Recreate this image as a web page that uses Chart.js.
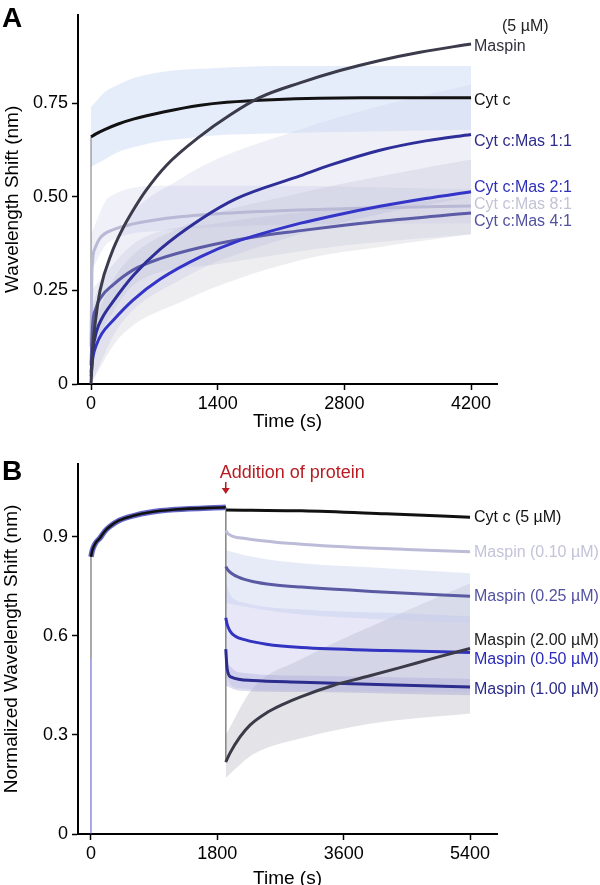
<!DOCTYPE html>
<html>
<head>
<meta charset="utf-8">
<script src="https://cdn.jsdelivr.net/npm/chart.js@4.4.0/dist/chart.umd.min.js"></script>
<style>
  html, body { margin: 0; padding: 0; background: #fff; overflow: hidden; }
  canvas { position: absolute; left: 0; }
</style>
</head>
<body>
<canvas id="chartA" width="600" height="440" style="top:0"></canvas>
<canvas id="chartB" width="600" height="450" style="top:440px"></canvas>
<script>
// ---------- Panel A data ----------
const aTicksX = [0, 1400, 2800, 4200];
const aTicksY = [0, 0.25, 0.5, 0.75];
const aTickLabelsY = ['0', '0.25', '0.50', '0.75'];

const aCytcT = [0, 50, 150, 300, 467, 800, 1208, 1500, 2000, 3000, 4200];
const aCytcY = [0.66, 0.668, 0.68, 0.695, 0.708, 0.727, 0.745, 0.753, 0.76, 0.765, 0.765];

const aMaspinT = [0, 20, 50, 100, 228, 350, 467, 600, 835, 1204, 1536, 1867, 2309, 2751, 3193, 3635, 4200];
const aMaspinY = [0, 0.1, 0.17, 0.25, 0.35, 0.415, 0.465, 0.515, 0.585, 0.662, 0.719, 0.766, 0.805, 0.838, 0.865, 0.887, 0.909];

const aMas11T = [0, 20, 60, 120, 243, 467, 762, 1208, 1600, 2317, 2641, 3193, 3700, 4200];
const aMas11Y = [0.03, 0.09, 0.14, 0.175, 0.22, 0.29, 0.36, 0.44, 0.495, 0.557, 0.585, 0.625, 0.65, 0.667];

const aMas21T = [0, 20, 60, 120, 243, 467, 762, 1208, 1600, 2317, 2641, 3193, 3700, 4200];
const aMas21Y = [0.02, 0.07, 0.105, 0.135, 0.17, 0.225, 0.28, 0.34, 0.38, 0.43, 0.448, 0.475, 0.496, 0.514];

const aMas81T = [0, 10, 40, 100, 250, 467, 800, 1400, 2300, 3200, 4200];
const aMas81Y = [0.1, 0.3, 0.36, 0.39, 0.413, 0.428, 0.442, 0.455, 0.465, 0.471, 0.476];

const aMas41T = [0, 15, 50, 120, 243, 467, 762, 1208, 1800, 2317, 2641, 3193, 4200];
const aMas41Y = [0.05, 0.15, 0.2, 0.235, 0.265, 0.305, 0.335, 0.365, 0.393, 0.41, 0.42, 0.435, 0.457];

// spread bands (lower / upper)
const aBandCytcT = [0, 150, 300, 500, 800, 1000, 1400, 2000, 4200];
const aBandCytcLo = [0.58, 0.6, 0.62, 0.635, 0.65, 0.655, 0.665, 0.67, 0.68];
const aBandCytcHi = [0.74, 0.78, 0.8, 0.82, 0.835, 0.84, 0.845, 0.85, 0.85];

const aBand11T = [0, 300, 1000, 2300, 3300, 4200];
const aBand11Lo = [0, 0.15, 0.28, 0.4, 0.46, 0.5];
const aBand11Hi = [0.2, 0.4, 0.55, 0.68, 0.75, 0.8];

const aBand21T = [0, 300, 1000, 2300, 3300, 4200];
const aBand21Lo = [0, 0.12, 0.22, 0.33, 0.37, 0.4];
const aBand21Hi = [0.15, 0.3, 0.42, 0.51, 0.56, 0.6];

const aBand81T = [0, 200, 800, 2000, 4200];
const aBand81Lo = [0.3, 0.38, 0.41, 0.425, 0.43];
const aBand81Hi = [0.4, 0.5, 0.53, 0.53, 0.52];

const aBand41T = [0, 500, 1400, 2800, 4200];
const aBand41Lo = [0.1, 0.27, 0.32, 0.37, 0.4];
const aBand41Hi = [0.25, 0.38, 0.43, 0.47, 0.5];

const aJumpT = [0, 0];
const aJumpY = [0, 0.66];

const aLabels = ['(5 µM)', 'Maspin', 'Cyt c', 'Cyt c:Mas 1:1', 'Cyt c:Mas 2:1', 'Cyt c:Mas 8:1', 'Cyt c:Mas 4:1'];

// ---------- Panel B data ----------
const bTicksX = [0, 1800, 3600, 5400];
const bTicksY = [0, 0.3, 0.6, 0.9];
const bTickLabelsY = ['0', '0.3', '0.6', '0.9'];
const bAdditionT = 1920;

const bPreT = [0, 20, 60, 128, 200, 270, 400, 600, 840, 1200, 1920];
const bPreY = [0.84, 0.86, 0.88, 0.897, 0.918, 0.932, 0.95, 0.964, 0.975, 0.983, 0.99];

const bCytcT = [1925, 3000, 4200, 5400];
const bCytcY = [0.982, 0.979, 0.97, 0.96];

const bM010T = [1920, 1950, 2200, 2600, 3600, 4500, 5400];
const bM010Y = [0.92, 0.91, 0.895, 0.885, 0.87, 0.862, 0.855];

const bM025T = [1920, 1950, 2000, 2100, 2300, 2600, 3000, 4000, 5400];
const bM025Y = [0.81, 0.8, 0.79, 0.778, 0.765, 0.755, 0.748, 0.735, 0.72];

const bM050T = [1920, 1940, 1980, 2050, 2200, 2500, 3000, 4200, 5400];
const bM050Y = [0.655, 0.635, 0.615, 0.6, 0.588, 0.575, 0.565, 0.556, 0.55];

const bM100T = [1920, 1940, 2000, 2300, 3000, 4200, 5400];
const bM100Y = [0.56, 0.5, 0.475, 0.465, 0.46, 0.452, 0.445];

const bM200T = [1920, 1980, 2123, 2265, 2507, 2735, 2978, 3448, 3932, 4402, 4872, 5400];
const bM200Y = [0.218, 0.245, 0.294, 0.33, 0.368, 0.393, 0.415, 0.45, 0.477, 0.504, 0.532, 0.562];

const bBand025T = [1920, 2300, 3000, 4200, 5400];
const bBand025Lo = [0.7, 0.685, 0.665, 0.65, 0.64];
const bBand025Hi = [0.86, 0.84, 0.82, 0.805, 0.79];

const bBand050T = [1920, 2000, 2200, 3000, 4200, 5400];
const bBand050Lo = [0.48, 0.45, 0.44, 0.435, 0.432, 0.43];
const bBand050Hi = [0.76, 0.72, 0.7, 0.68, 0.67, 0.66];

const bBand100T = [1920, 2100, 3000, 5400];
const bBand100Lo = [0.45, 0.435, 0.43, 0.42];
const bBand100Hi = [0.52, 0.49, 0.48, 0.47];

const bBand200T = [1920, 2300, 3000, 4000, 5400];
const bBand200Lo = [0.17, 0.24, 0.29, 0.335, 0.365];
const bBand200Hi = [0.3, 0.44, 0.53, 0.63, 0.76];

const bJump0T = [0, 0];
const bJump0Y = [0.53, 0.84];
const bJumpBlueT = [0, 0];
const bJumpBlueY = [0, 0.53];
const bJump1T = [1920, 1920];
const bJump1Y = [0.99, 0.22];

const bLabels = ['Cyt c (5 µM)', 'Maspin (0.10 µM)', 'Maspin (0.25 µM)', 'Maspin (2.00 µM)', 'Maspin (0.50 µM)', 'Maspin (1.00 µM)'];

// ---------- helpers ----------
Chart.defaults.font.family = '"Liberation Sans", Arial, sans-serif';
Chart.defaults.color = '#000';

const pts = (t, y) => t.map((v, i) => ({ x: v, y: y[i] }));

function line(t, y, color, width) {
  return {
    data: pts(t, y), borderColor: color, borderWidth: width,
    pointRadius: 0, fill: false, cubicInterpolationMode: 'monotone', order: 0
  };
}
function straight(t, y, color, width) {
  return { data: pts(t, y), borderColor: color, borderWidth: width, pointRadius: 0, fill: false, tension: 0, order: 1 };
}
function band(t, lo, hi, color) {
  return [
    { data: pts(t, hi), borderWidth: 0, pointRadius: 0, backgroundColor: color, fill: '+1', cubicInterpolationMode: 'monotone', order: 5 },
    { data: pts(t, lo), borderWidth: 0, pointRadius: 0, fill: false, cubicInterpolationMode: 'monotone', order: 5 }
  ];
}

function axes(o) {
  return {
    x: {
      type: 'linear', min: o.xmin, max: o.xmax,
      afterFit: s => { s.height = o.xh; },
      afterBuildTicks: s => { s.ticks = o.ticksX.map(v => ({ value: v })); },
      ticks: { font: { size: 18 }, color: '#000', padding: 3, maxRotation: 0, callback: v => String(v) },
      grid: { drawOnChartArea: false, drawTicks: true, tickLength: 6, tickColor: '#000', tickWidth: 1.5 },
      border: { display: true, color: '#000', width: 2 },
      title: { display: true, text: 'Time (s)', font: { size: 19 }, color: '#000', padding: { top: 0, bottom: o.xtpad } }
    },
    y: {
      type: 'linear', min: 0, max: o.ymax,
      afterFit: s => { s.width = 78; },
      afterBuildTicks: s => { s.ticks = o.ticksY.map(v => ({ value: v })); },
      ticks: { font: { size: 18 }, color: '#000', padding: 4, callback: v => o.labelsY[o.ticksY.indexOf(v)] },
      grid: { drawOnChartArea: false, drawTicks: true, tickLength: 6, tickColor: '#000', tickWidth: 1.5 },
      border: { display: true, color: '#000', width: 2 },
      title: { display: true, text: o.ytitle, font: { size: 19 }, color: '#000', padding: { top: o.ytpad, bottom: 0 } }
    }
  };
}

function textPlugin(id, letter, letterY, labels, labelAt, labelColors, extra) {
  return {
    id: id,
    afterDraw(chart) {
      const ctx = chart.ctx, ys = chart.scales.y;
      ctx.save();
      ctx.fillStyle = '#000';
      ctx.font = 'bold 28px "Liberation Sans", Arial, sans-serif';
      ctx.textBaseline = 'alphabetic';
      ctx.fillText(letter, 2, letterY);
      ctx.font = '16px "Liberation Sans", Arial, sans-serif';
      ctx.textBaseline = 'middle';
      labels.forEach((txt, i) => {
        ctx.fillStyle = labelColors[i];
        const at = labelAt[i];
        ctx.fillText(txt, at[0], ys.getPixelForValue(at[1]));
      });
      if (extra) extra(chart, ctx);
      ctx.restore();
    }
  };
}

// ---------- Panel A ----------
const cA = {
  maspin: '#3b3b4c', cytc: '#121212', m11: '#2e2e98', m21: '#3434c8', m81: '#b9b9d6', m41: '#5c5ca6'
};
const dsA = [
  line(aMaspinT, aMaspinY, cA.maspin, 3),
  line(aCytcT, aCytcY, cA.cytc, 3),
  line(aMas11T, aMas11Y, cA.m11, 3),
  line(aMas21T, aMas21Y, cA.m21, 3),
  line(aMas41T, aMas41Y, cA.m41, 3),
  line(aMas81T, aMas81Y, cA.m81, 3),
  straight(aJumpT, aJumpY, '#777', 1),
  ...band(aBandCytcT, aBandCytcLo, aBandCytcHi, 'rgba(200,215,245,0.45)'),
  ...band(aBand11T, aBand11Lo, aBand11Hi, 'rgba(160,165,210,0.18)'),
  ...band(aBand21T, aBand21Lo, aBand21Hi, 'rgba(170,172,185,0.2)'),
  ...band(aBand81T, aBand81Lo, aBand81Hi, 'rgba(205,205,235,0.3)'),
  ...band(aBand41T, aBand41Lo, aBand41Hi, 'rgba(150,150,195,0.15)')
];
const aLabelAt = [[502, 0.955], [474, 0.901], [474, 0.758], [474, 0.649], [474, 0.526], [474, 0.48], [474, 0.433]];
const aLabelColors = ['#222', '#30303e', '#111', '#2c2c8c', '#3030b8', '#c3c3d6', '#5252a0'];

new Chart(document.getElementById('chartA'), {
  type: 'line',
  data: { datasets: dsA },
  options: {
    responsive: false, animation: false,
    layout: { padding: { left: 0, right: 103, top: 5, bottom: 0 } },
    plugins: { legend: { display: false }, tooltip: { enabled: false } },
    scales: axes({ xmin: -144, xmax: 4487, ymax: 0.987, xh: 56, ticksX: aTicksX, ticksY: aTicksY,
      labelsY: aTickLabelsY, ytitle: 'Wavelength Shift (nm)', xtpad: 6.6, ytpad: 1.6 })
  },
  plugins: [textPlugin('txtA', 'A', 27, aLabels, aLabelAt, aLabelColors)]
});

// ---------- Panel B ----------
const cB = {
  cytc: '#111', pre: 'rgba(72,72,190,0.85)', m010: '#bcbcd8', m025: '#5a5aa2', m050: '#3333c2', m100: '#2c2c8e', m200: '#3a3a48'
};
const dsB = [
  line(bPreT, bPreY, cB.cytc, 2.6),
  line(bCytcT, bCytcY, cB.cytc, 3),
  line(bM010T, bM010Y, cB.m010, 3),
  line(bM025T, bM025Y, cB.m025, 3),
  line(bM200T, bM200Y, cB.m200, 3),
  line(bM050T, bM050Y, cB.m050, 3),
  line(bM100T, bM100Y, cB.m100, 3),
  Object.assign(line(bPreT, bPreY, cB.pre, 5.5), { order: 2 }),
  straight(bJump0T, bJump0Y, '#555', 1),
  straight(bJumpBlueT, bJumpBlueY, '#5555cc', 1),
  straight(bJump1T, bJump1Y, '#888', 1),
  ...band(bBand025T, bBand025Lo, bBand025Hi, 'rgba(195,205,238,0.4)'),
  ...band(bBand050T, bBand050Lo, bBand050Hi, 'rgba(185,185,232,0.35)'),
  ...band(bBand100T, bBand100Lo, bBand100Hi, 'rgba(140,140,200,0.3)'),
  ...band(bBand200T, bBand200Lo, bBand200Hi, 'rgba(165,165,178,0.3)')
];
const bLabelAt = [[474, 0.958], [474, 0.852], [474, 0.718], [474, 0.585], [474, 0.527], [474, 0.439]];
const bLabelColors = ['#111', '#c3c3da', '#5252a2', '#222', '#2a2ab8', '#2a2a8c'];

function additionMark(chart, ctx) {
  const x = chart.scales.x.getPixelForValue(bAdditionT);
  ctx.fillStyle = '#b81c22';
  ctx.strokeStyle = '#b81c22';
  ctx.font = '18px "Liberation Sans", Arial, sans-serif';
  ctx.textBaseline = 'middle';
  ctx.fillText('Addition of protein', x - 6, 33);
  ctx.lineWidth = 1.5;
  ctx.beginPath(); ctx.moveTo(x, 42); ctx.lineTo(x, 50); ctx.stroke();
  ctx.beginPath(); ctx.moveTo(x - 4, 48); ctx.lineTo(x + 4, 48); ctx.lineTo(x, 54); ctx.closePath(); ctx.fill();
}

new Chart(document.getElementById('chartB'), {
  type: 'line',
  data: { datasets: dsB },
  options: {
    responsive: false, animation: false,
    layout: { padding: { left: 0, right: 103, top: 24, bottom: 0 } },
    plugins: { legend: { display: false }, tooltip: { enabled: false } },
    scales: axes({ xmin: -185, xmax: 5784, ymax: 1.121, xh: 56, ticksX: bTicksX, ticksY: bTicksY,
      labelsY: bTickLabelsY, ytitle: 'Normalized Wavelength Shift (nm)', xtpad: 0, ytpad: 0 })
  },
  plugins: [textPlugin('txtB', 'B', 40, bLabels, bLabelAt, bLabelColors, additionMark)]
});
</script>
</body>
</html>
